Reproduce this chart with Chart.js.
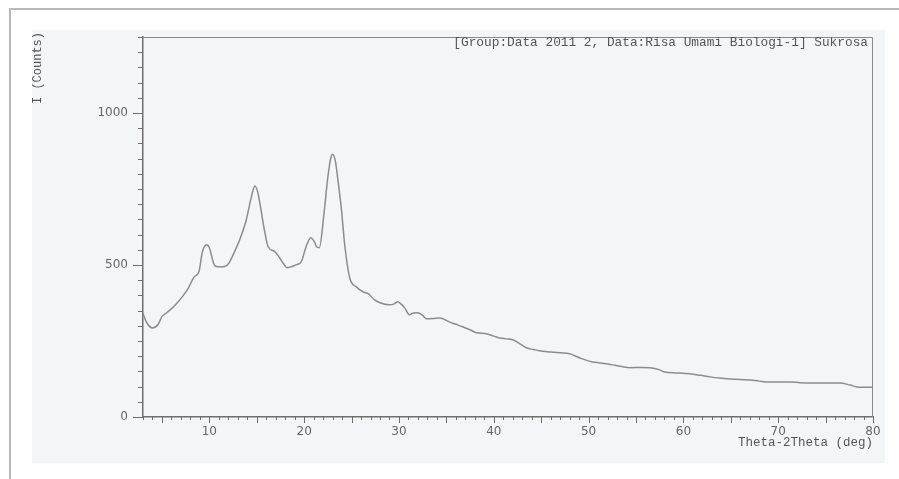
<!DOCTYPE html>
<html>
<head>
<meta charset="utf-8">
<script src="https://cdn.jsdelivr.net/npm/chart.js@4"></script>
<style>
  html, body { margin: 0; padding: 0; background: #fff; }
  #xrd { display: block; }
</style>
</head>
<body>
<canvas id="xrd" width="899" height="479"></canvas>
<script>
// diffraction angle (deg) and intensity
const twoTheta = [3.0, 3.4, 4.0, 4.6, 5.0, 5.5, 6.1, 6.6, 7.15, 7.8, 8.4, 8.9, 9.25, 9.7, 10.0, 10.5, 10.85, 11.4, 11.8, 12.1, 12.6, 13.2, 13.9, 14.4, 14.8, 15.1, 15.4, 15.8, 16.2, 16.9, 17.4, 17.8, 18.2, 18.7, 19.2, 19.7, 20.2, 20.7, 21.1, 21.3, 21.6, 22.1, 22.5, 22.8, 23.0, 23.3, 23.6, 23.9, 24.3, 24.8, 25.5, 26.2, 26.8, 27.4, 28.0, 29.0, 29.5, 29.85, 30.2, 30.6, 31.1, 31.5, 32.0, 32.5, 32.9, 33.6, 34.3, 35.3, 36.0, 36.7, 37.5, 38.2, 39.2, 40.0, 40.6, 41.3, 42.0, 42.8, 43.5, 44.2, 44.8, 46.0, 47.0, 48.0, 49.1, 50.4, 51.2, 51.9, 52.8, 53.5, 54.4, 55.5, 56.5, 57.5, 58.0, 59.3, 60.7, 61.8, 62.8, 63.8, 64.9, 66.0, 67.0, 68.0, 69.1, 70.2, 71.2, 72.3, 73.4, 75.0, 76.5, 77.6, 78.3, 79.0, 80.0];
const counts = [340, 310, 293, 305, 330, 343, 359, 375, 396, 425, 461, 478, 541, 567, 557, 501, 494, 494, 498, 508, 540, 583, 649, 720, 760, 740, 690, 616, 560, 544, 524, 505, 491, 495, 501, 511, 560, 590, 575, 560, 557, 672, 790, 850, 864, 840, 770, 692, 560, 458, 428, 412, 405, 386, 376, 369, 372, 379, 372, 359, 336, 342, 343, 334, 323, 324, 326, 313, 305, 297, 287, 277, 274, 266, 260, 257, 254, 240, 227, 222, 218, 214, 211, 208, 194, 181, 178, 175, 170, 166, 162, 163, 162, 155, 148, 145, 142, 137, 132, 128, 125, 123, 122, 118, 115, 115, 115, 113, 112, 112, 112, 105, 99, 98, 98];

const xLabels = [10, 20, 30, 40, 50, 60, 70, 80];
const yLabels = [0, 500, 1000];
const headerText = "[Group:Data 2011 2, Data:Risa Umami Biologi-1] Sukrosa";

const points = twoTheta.map((t, i) => ({ x: t, y: counts[i] }));

const mono = "'Liberation Mono', 'DejaVu Sans Mono', monospace";
const sans = "'DejaVu Sans', sans-serif";

// paper, frame, tick marks and the header line
const scanLook = {
  id: 'scanLook',
  beforeDraw(chart) {
    const ctx = chart.ctx;
    ctx.save();
    ctx.fillStyle = '#ffffff';
    ctx.fillRect(0, 0, chart.width, chart.height);
    ctx.fillStyle = '#f3f6f8';
    ctx.fillRect(32, 30, 853, 433);
    ctx.strokeStyle = '#b8b8b8';
    ctx.lineWidth = 2;
    ctx.beginPath();
    ctx.moveTo(10, chart.height);
    ctx.lineTo(10, 9);
    ctx.lineTo(chart.width, 9);
    ctx.stroke();
    ctx.restore();
  },
  afterDraw(chart) {
    const ctx = chart.ctx;
    const a = chart.chartArea;
    const xs = chart.scales.x, ys = chart.scales.y;
    ctx.save();
    ctx.strokeStyle = '#8a8a8a';
    ctx.lineWidth = 1;
    ctx.beginPath();
    ctx.moveTo(a.left, a.top + 0.5);
    ctx.lineTo(a.right - 0.5, a.top + 0.5);
    ctx.lineTo(a.right - 0.5, a.bottom);
    ctx.stroke();

    ctx.strokeStyle = '#6e6e6e';
    ctx.beginPath();
    for (let v = xs.min; v <= xs.max; v++) {
      const px = Math.round(xs.getPixelForValue(v)) + 0.5;
      const len = v % 5 === 0 ? 6 : 3;
      ctx.moveTo(px, a.bottom);
      ctx.lineTo(px, a.bottom + len);
    }
    for (let v = ys.min; v <= ys.max; v += 50) {
      const py = Math.round(ys.getPixelForValue(v)) + 0.5;
      const len = v % 500 === 0 ? 10 : 5;
      ctx.moveTo(a.left - len, py);
      ctx.lineTo(a.left, py);
    }
    ctx.stroke();

    ctx.fillStyle = '#555';
    ctx.font = '12.8px ' + mono;
    ctx.textAlign = 'right';
    ctx.textBaseline = 'middle';
    ctx.fillText(headerText, a.right - 5, a.top + 6);

    // y axis name sits at the top of the axis, reading upwards
    ctx.translate(38, 32);
    ctx.rotate(-Math.PI / 2);
    ctx.font = '12px ' + mono;
    ctx.fillText('I (Counts)', 0, 0);
    ctx.restore();
  }
};

new Chart(document.getElementById('xrd'), {
  type: 'line',
  data: {
    datasets: [{
      data: points,
      borderColor: '#8c8c8c',
      borderWidth: 1.5,
      pointRadius: 0,
      fill: false,
      cubicInterpolationMode: 'monotone'
    }]
  },
  options: {
    responsive: false,
    animation: false,
    layout: { padding: { top: 37, right: 26, bottom: 29, left: 0 } },
    plugins: {
      legend: { display: false },
      tooltip: { enabled: false }
    },
    scales: {
      x: {
        type: 'linear',
        min: 3,
        max: 80,
        afterFit: s => { s.height = 33; },
        afterBuildTicks: s => { s.ticks = xLabels.map(v => ({ value: v })); },
        grid: { display: true, drawOnChartArea: false, drawTicks: false },
        border: { display: true, color: '#6e6e6e', width: 1.5 },
        ticks: {
          padding: 8,
          color: '#666',
          font: { family: sans, size: 12 },
          maxRotation: 0,
          callback: v => String(v)
        },
        title: {
          display: true,
          text: 'Theta-2Theta (deg)',
          align: 'end',
          color: '#555',
          font: { family: mono, size: 12.5 },
          padding: { top: 0, bottom: 0 }
        }
      },
      y: {
        min: 0,
        max: 1250,
        afterFit: s => { s.width = 143; },
        afterBuildTicks: s => { s.ticks = yLabels.map(v => ({ value: v })); },
        grid: { display: true, drawOnChartArea: false, drawTicks: false },
        border: { display: true, color: '#6e6e6e', width: 1.5 },
        ticks: {
          padding: 15,
          color: '#666',
          font: { family: sans, size: 12 },
          callback: v => String(v)
        }
      }
    }
  },
  plugins: [scanLook]
});
</script>
</body>
</html>
